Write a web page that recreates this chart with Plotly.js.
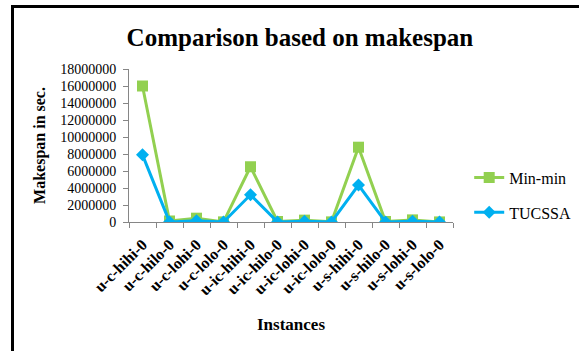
<!DOCTYPE html>
<html>
<head>
<meta charset="utf-8">
<script src="https://cdn.plot.ly/plotly-3.0.1.min.js"></script>
<style>
html,body{margin:0;padding:0;background:#fff;}
#wrap{position:relative;width:579px;height:351px;overflow:hidden;}
#chart{position:absolute;left:0;top:0;width:579px;height:351px;}
#frame{position:absolute;left:11px;top:5px;width:580px;height:360px;border-left:3px solid #000;border-top:3px solid #000;pointer-events:none;}
</style>
</head>
<body>
<div id="wrap">
<div id="chart"></div>
<div id="frame"></div>
</div>
<script>
var instances = ["u-c-hihi-0","u-c-hilo-0","u-c-lohi-0","u-c-lolo-0","u-ic-hihi-0","u-ic-hilo-0","u-ic-lohi-0","u-ic-lolo-0","u-s-hihi-0","u-s-hilo-0","u-s-lohi-0","u-s-lolo-0"];
var minmin = [16000000, 120000, 450000, 15000, 6500000, 60000, 220000, 15000, 8800000, 60000, 250000, 10000];
var tucssa = [7900000, 10000, 150000, 5000, 3200000, 10000, 100000, 5000, 4350000, 10000, 100000, 5000];
var yTicks = [0,2000000,4000000,6000000,8000000,10000000,12000000,14000000,16000000,18000000];

var serif = "Liberation Serif";

var traces = [
  {x: instances, y: minmin, name: "Min-min", type: "scatter", mode: "lines+markers",
   line: {color: "#92D050", width: 3}, marker: {symbol: "square", size: 11, color: "#92D050"},
   legendgroup: "a"},
  {x: instances, y: tucssa, name: "TUCSSA", type: "scatter", mode: "lines+markers",
   line: {color: "#00B0F0", width: 3}, marker: {symbol: "diamond", size: 10, color: "#00B0F0"},
   legendgroup: "b"}
];

var layout = {
  width: 579, height: 351,
  font: {family: serif, color: "#000"},
  margin: {l: 129, r: 126, t: 69, b: 129, autoexpand: false},
  paper_bgcolor: "#fff", plot_bgcolor: "#fff",
  title: {text: "<b>Comparison based on makespan</b>", font: {family: serif, size: 25, color: "#000"},
          x: 0.518, xref: "container", xanchor: "center", y: 0.895, yanchor: "middle", yref: "container"},
  xaxis: {
    type: "category", range: [-0.5, 11.5], tickson: "boundaries",
    ticks: "outside", ticklen: 5, tickcolor: "#868686",
    showline: true, linecolor: "#868686", linewidth: 1, showgrid: false, zeroline: false,
    tickangle: -45, ticklabelstandoff: 6,
    tickfont: {family: serif, size: 16, color: "#000", weight: "bold"},
    title: {text: "<b>Instances</b>", font: {family: serif, size: 17, color: "#000"}, standoff: 20}
  },
  yaxis: {
    range: [0, 18000000], tickvals: yTicks, tickformat: "d",
    ticks: "outside", ticklen: 5, tickcolor: "#868686", ticklabelstandoff: 4,
    showline: true, linecolor: "#868686", linewidth: 1, showgrid: false, zeroline: false,
    tickfont: {family: serif, size: 14, color: "#000"},
    title: {text: "<b>Makespan in sec.</b>", font: {family: serif, size: 16, color: "#000"}, standoff: 10}
  },
  legend: {x: 1.05, xanchor: "left", y: 0.176, yanchor: "middle", traceorder: "grouped", tracegroupgap: 11,
           font: {family: serif, size: 16, color: "#000"}, bgcolor: "rgba(0,0,0,0)"},
  showlegend: true
};

Plotly.newPlot("chart", traces, layout, {displayModeBar: false, staticPlot: true});
</script>
</body>
</html>
